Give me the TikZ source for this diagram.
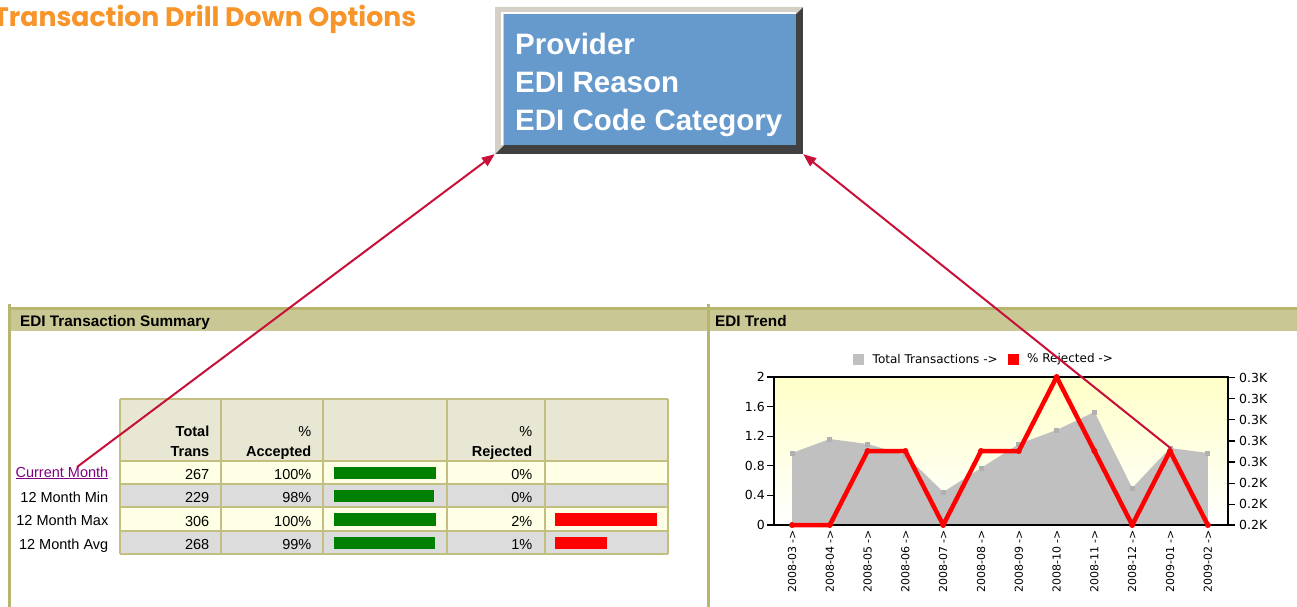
\documentclass[tikz,border=0pt]{standalone}
\usepackage{fontspec}
\setmainfont{Liberation Sans}
\newfontfamily\dvs{DejaVu Sans}
\newfontfamily\ttl{Poppins}
\usetikzlibrary{arrows.meta}
\definecolor{ttlorange}{RGB}{247,148,42}
\definecolor{boxblue}{RGB}{102,153,204}
\definecolor{bevlight}{RGB}{212,208,200}
\definecolor{bevdark}{RGB}{64,64,64}
\definecolor{olive}{RGB}{184,181,110}
\definecolor{band}{RGB}{201,199,148}
\definecolor{hdrcell}{RGB}{232,231,211}
\definecolor{rowyel}{RGB}{255,255,230}
\definecolor{rowgry}{RGB}{220,220,220}
\definecolor{gridc}{RGB}{194,191,128}
\definecolor{gbar}{RGB}{0,128,0}
\definecolor{rbar}{RGB}{255,0,0}
\definecolor{arrowc}{RGB}{200,16,56}
\definecolor{linkc}{RGB}{128,0,128}
\definecolor{areac}{RGB}{192,192,192}
\definecolor{areamk}{RGB}{176,176,176}
\definecolor{plotyel}{RGB}{255,255,200}
\begin{document}
\begin{tikzpicture}[x=1pt,y=-1pt,
  cell/.style={anchor=base east, inner sep=0pt, font=\fontsize{14.5}{16}\selectfont},
  hcell/.style={anchor=base east, inner sep=0pt, font=\bfseries\fontsize{14.5}{16}\selectfont},
  rowlab/.style={anchor=base east, inner sep=0pt, font=\fontsize{14.5}{16}\selectfont},
  panelhdr/.style={anchor=base west, inner sep=0pt, font=\bfseries\fontsize{15.3}{17}\selectfont},
  axl/.style={anchor=east, inner sep=0pt, font=\dvs\fontsize{12.5}{14}\selectfont},
  axr/.style={anchor=west, inner sep=0pt, font=\dvs\fontsize{12.5}{14}\selectfont},
  xlab/.style={rotate=90, anchor=east, inner sep=0pt, font=\dvs\fontsize{11}{13}\selectfont},
  legtxt/.style={anchor=west, inner sep=0pt, font=\dvs\fontsize{12}{14}\selectfont},
  boxtxt/.style={anchor=base west, inner sep=0pt, text=white, font=\bfseries\fontsize{29.5}{32}\selectfont},
  link/.style={draw=arrowc, line width=2pt, -{Triangle[length=13pt,width=10pt]}},
  gridline/.style={draw=gridc, line width=1.5pt},
  redline/.style={draw=rbar, line width=4.5pt, line join=round, line cap=round}
]
\useasboundingbox (0,0) rectangle (1297,607);
\fill[white] (0,0) rectangle (1297,607);

% title
\node[anchor=base west, inner sep=0pt, text=ttlorange, font=\ttl\bfseries\fontsize{26.7}{30}\selectfont] (title) at (-7,26.5) {Transaction Drill Down Options};

% drill-down box
\node[minimum width=308pt, minimum height=147pt, inner sep=0pt] (box) at (649,80.5) {};
\fill[bevdark] (495,7) rectangle (803,154);
\fill[bevlight] (495,7) -- (803,7) -- (796,14) -- (504,14) -- (504,145) -- (495,154) -- cycle;
\draw[white, line width=2pt] (502,145) -- (502,13) -- (796,13);
\fill[boxblue] (504,14) rectangle (796,145);
\node[boxtxt] (bt1) at (515,54.5) {Provider};
\node[boxtxt] (bt2) at (515,92.3) {EDI Reason};
\node[boxtxt] (bt3) at (515,130.3) {EDI Code Category};

% panels
\fill[band] (10,307) rectangle (707,331);
\fill[olive] (10,307) rectangle (707,309.5);
\fill[band] (709.5,307) rectangle (1297,331);
\fill[olive] (709.5,307) rectangle (1297,309.5);
\fill[olive] (8,304) rectangle (10.5,607);
\fill[olive] (707,304) rectangle (709.5,607);
\node[panelhdr] (h1) at (20,326.5) {EDI Transaction Summary};
\node[panelhdr] (h2) at (715,326.5) {EDI Trend};

% table
\fill[hdrcell] (120,399) rectangle (668,461);
\fill[rowyel] (120,461) rectangle (668,484);
\fill[rowgry] (120,484) rectangle (668,507);
\fill[rowyel] (120,507) rectangle (668,531);
\fill[rowgry] (120,531) rectangle (668,554);
\foreach \xx in {120,221,323,447,545,668} \draw[gridline] (\xx,399) -- (\xx,554);
\foreach \yy in {399,461,484,507,531,554} \draw[gridline] (120,\yy) -- (668,\yy);

\node[hcell] (tt1) at (209.5,436.5) {Total};
\node[hcell] (tt2) at (209.5,456.5) {Trans};
\node[cell] (pa1) at (311.5,436.5) {\%};
\node[hcell] (pa2) at (311.5,456.5) {Accepted};
\node[cell] (pr1) at (532.5,436.5) {\%};
\node[hcell] (pr2) at (532.5,456.5) {Rejected};

\node[rowlab, text=linkc] (cm) at (108.5,477) {\underline{Current Month}};
\node[rowlab] (rmin) at (108.5,502.3) {12 Month Min};
\node[rowlab] (rmax) at (108.5,525.5) {12 Month Max};
\node[rowlab] (ravg) at (108.5,549) {12 Month Avg};

\node[cell] (v11) at (209.5,479.8) {267};
\node[cell] (v12) at (311.5,479.8) {100\%};
\node[cell] (v13) at (532.5,479.8) {0\%};
\node[cell] (v21) at (209.5,502.8) {229};
\node[cell] (v22) at (311.5,502.8) {98\%};
\node[cell] (v23) at (532.5,502.8) {0\%};
\node[cell] (v31) at (209.5,526) {306};
\node[cell] (v32) at (311.5,526) {100\%};
\node[cell] (v33) at (532.5,526) {2\%};
\node[cell] (v41) at (209.5,549.3) {268};
\node[cell] (v42) at (311.5,549.3) {99\%};
\node[cell] (v43) at (532.5,549.3) {1\%};

\fill[gbar] (334,466.7) rectangle (436,478.5);
\fill[gbar] (334,490) rectangle (433.5,502.3);
\fill[gbar] (334,513.3) rectangle (436,525.7);
\fill[gbar] (334,536.7) rectangle (435,549);
\fill[rbar] (555.3,513.3) rectangle (657.3,525.7);
\fill[rbar] (555.3,536.7) rectangle (606.7,549);

% chart legend
\fill[areac] (853,354) rectangle (863.5,365);
\node[legtxt] (lg1) at (872.5,359.5) {Total Transactions ->};
\fill[rbar] (1008,354) rectangle (1018.5,365);
\node[legtxt] (lg2) at (1027,359.5) {\% Rejected ->};

% plot area
\shade[top color=plotyel, bottom color=white] (774,377) rectangle (1228,525);
\fill[areac] (792,525) -- (792,453) -- (829.8,439) -- (867.6,444) -- (905.4,455) -- (943.2,492) -- (981,468) -- (1018.8,444) -- (1056.6,430) -- (1094.4,412) -- (1132.2,488) -- (1170,448) -- (1207.8,453) -- (1207.8,525) -- cycle;
\foreach \xx/\yy in {792/453, 829.8/439, 867.6/444, 905.4/455, 943.2/492, 981/468, 1018.8/444, 1056.6/430, 1094.4/412, 1132.2/488, 1170/448, 1207.8/453}
  \fill[areamk] (\xx-2.5,\yy-2) rectangle (\xx+2.5,\yy+3);

\draw[black, line width=1.3pt] (774,377) -- (1228,377);
\draw[black, line width=1.3pt] (774,376.4) -- (774,525.6);
\draw[black, line width=1.3pt] (1228,376.4) -- (1228,525.6);
\draw[black, line width=1.3pt] (774,525) -- (1228,525);

\foreach \yy/\lab in {377/2, 406.6/1.6, 436.2/1.2, 465.8/0.8, 495.4/0.4, 525/0} {
  \draw[black, line width=1.2pt] (767,\yy) -- (774,\yy);
  \node[axl] at (765,\yy) {\lab};
}
\foreach \yy/\lab in {377.5/0.3K, 398.6/0.3K, 419.7/0.3K, 440.9/0.3K, 462/0.3K, 483.1/0.2K, 504.3/0.2K, 525/0.2K} {
  \draw[black, line width=1.2pt] (1228,\yy) -- (1235,\yy);
  \node[axr] at (1239,\yy) {\lab};
}

% red line
\foreach \i/\v in {0/0,1/0,2/1,3/1,4/0,5/1,6/1,7/2,8/1,9/0,10/1,11/0}
  \coordinate (p\i) at ({792+37.8*\i},{525-74*\v});
\draw[redline] (p0) -- (p1) -- (p2) -- (p3) -- (p4) -- (p5) -- (p6) -- (p7) -- (p8) -- (p9) -- (p10) -- (p11);
\foreach \i in {0,...,11} \fill[rbar] (p\i) circle (3pt);

\foreach \i/\lab in {0/2008-03,1/2008-04,2/2008-05,3/2008-06,4/2008-07,5/2008-08,6/2008-09,7/2008-10,8/2008-11,9/2008-12,10/2009-01,11/2009-02}
  \node[xlab] (xl\i) at ({792+37.8*\i},530) {\lab\ ->};

% connectors
\coordinate (ls) at (77,467);
\coordinate (rs) at (1171,448.5);
\draw[link] (ls) -- (box.south west);
\draw[link] (rs) -- (box.south east);
\end{tikzpicture}
\end{document}
